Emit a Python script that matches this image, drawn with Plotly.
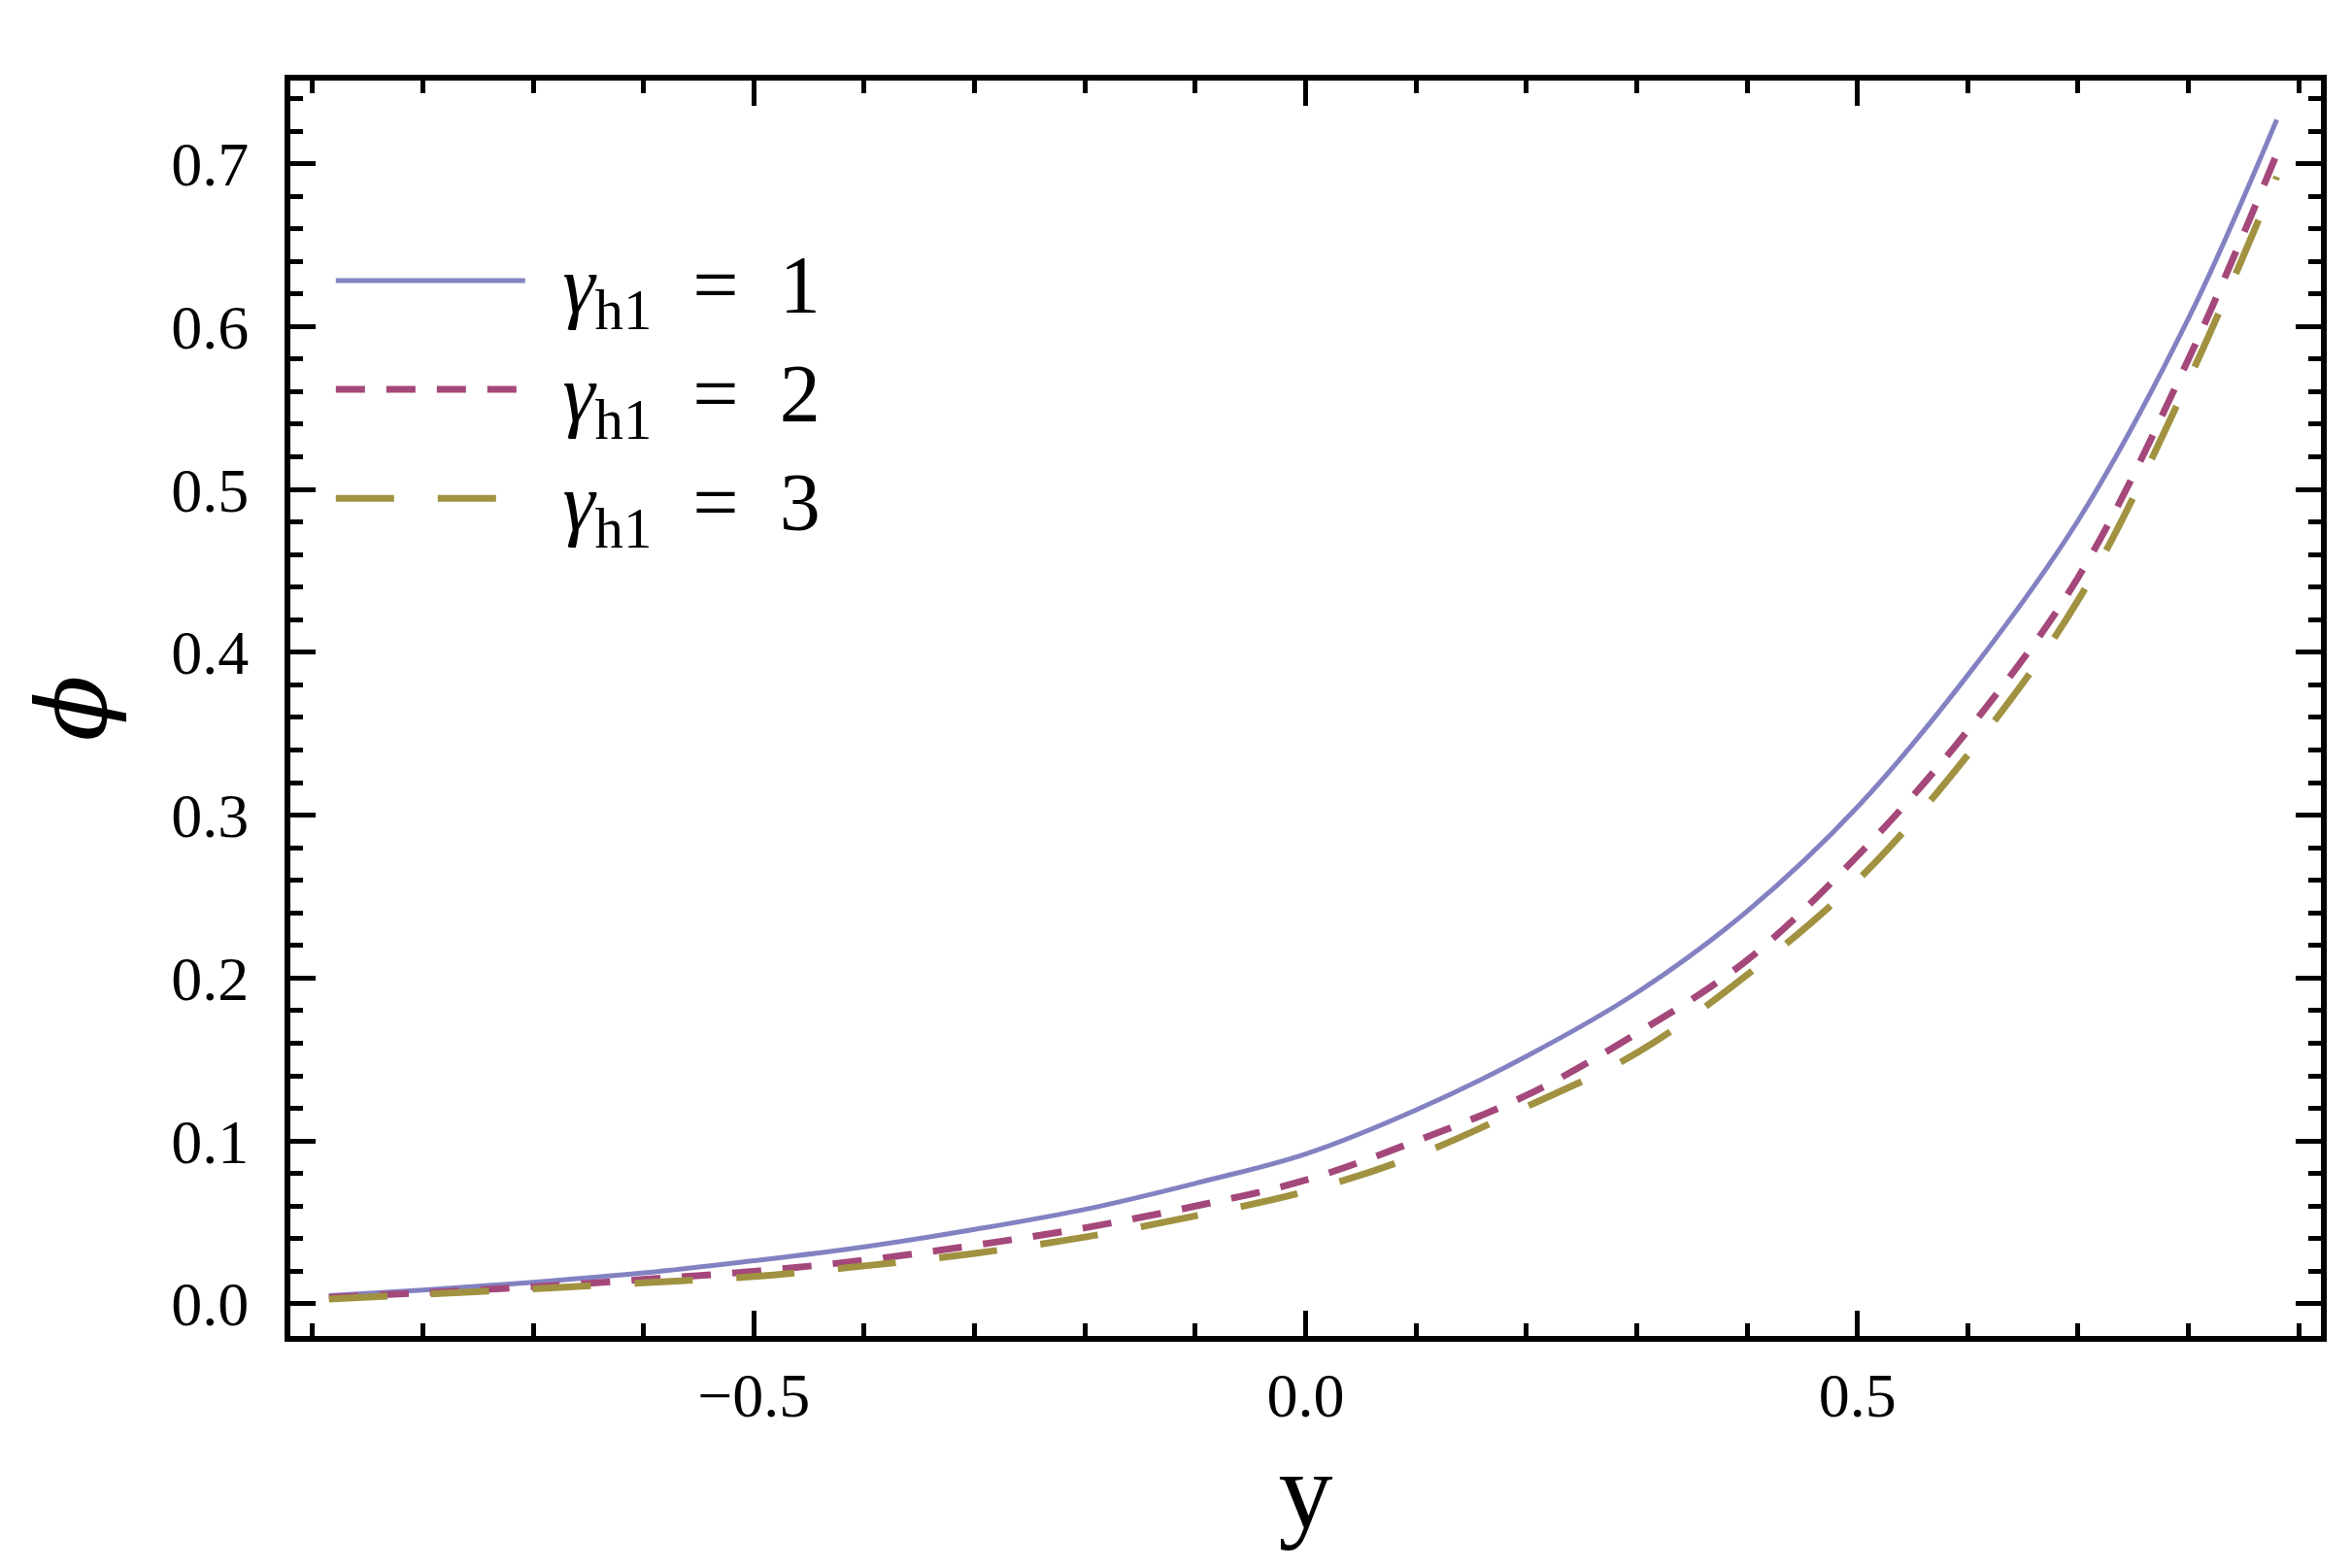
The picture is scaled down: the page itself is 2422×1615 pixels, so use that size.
import plotly.graph_objects as go

# Data
y_pos = [-0.885, -0.8, -0.7, -0.6, -0.5, -0.4, -0.3, -0.2, -0.1, 0.0,
         0.1, 0.2, 0.3, 0.4, 0.5, 0.6, 0.7, 0.8, 0.88]
phi_g1 = [0.005, 0.0085, 0.0133, 0.019, 0.0265, 0.035, 0.0457, 0.058, 0.074, 0.092,
          0.119, 0.152, 0.191, 0.241, 0.305, 0.386, 0.481, 0.605, 0.727]
phi_g2 = [0.004, 0.0068, 0.0105, 0.015, 0.020, 0.0268, 0.036, 0.0467, 0.060, 0.076,
          0.100, 0.128, 0.166, 0.211, 0.275, 0.352, 0.446, 0.580, 0.706]
phi_g3 = [0.003, 0.0058, 0.0092, 0.013, 0.0168, 0.0233, 0.031, 0.041, 0.054, 0.069,
          0.091, 0.121, 0.154, 0.202, 0.260, 0.337, 0.432, 0.567, 0.692]
gamma_values = ["1", "2", "3"]

SP = "\u2009\u2009"      # small lead-in gap between legend line and text
GAP = "\u00a0 "          # wider gap around the equals sign
series_names = [f"{SP}<i>γ</i><sub>h1</sub>{GAP}={GAP}{g}" for g in gamma_values]

FONT = "Liberation Serif"

fig = go.Figure()
fig.add_trace(go.Scatter(x=y_pos, y=phi_g1, mode="lines", name=series_names[0],
                         line=dict(color="#8282c2", width=5, shape="spline")))
fig.add_trace(go.Scatter(x=y_pos, y=phi_g2, mode="lines", name=series_names[1],
                         line=dict(color="#a4487b", width=7, dash="30px,22px", shape="spline")))
fig.add_trace(go.Scatter(x=y_pos, y=phi_g3, mode="lines", name=series_names[2],
                         line=dict(color="#a09240", width=7, dash="60px,45px", shape="spline")))

axis_common = dict(
    showline=True, linewidth=6, linecolor="black", mirror="ticks",
    ticks="inside", ticklen=26, tickwidth=5, tickcolor="black",
    showgrid=False, zeroline=False,
    tickfont=dict(family=FONT, size=64, color="black"),
)

fig.update_xaxes(
    range=[-0.92, 0.92], tickmode="linear", tick0=0, dtick=0.5, tickformat=".1f",
    minor=dict(tickmode="linear", tick0=0, dtick=0.1, ticks="inside", ticklen=13,
               tickwidth=5, tickcolor="black", showgrid=False),
    title=dict(text="y", font=dict(family=FONT, size=112, color="black"), standoff=22),
    **axis_common,
)
fig.update_yaxes(
    range=[-0.0197, 0.751], tickmode="linear", tick0=0, dtick=0.1, tickformat=".1f",
    ticklabelstandoff=24,
    minor=dict(tickmode="linear", tick0=0, dtick=0.02, ticks="inside", ticklen=13,
               tickwidth=5, tickcolor="black", showgrid=False),
    title=dict(text="<i>ϕ</i>", font=dict(family="DejaVu Serif", size=100, color="black"),
               standoff=35),
    **axis_common,
)

fig.update_layout(
    width=2422, height=1615,
    margin=dict(l=291, r=40, t=75, b=247),
    plot_bgcolor="white", paper_bgcolor="white",
    font=dict(family=FONT, color="black"),
    showlegend=True,
    legend=dict(x=0.02, y=0.888, xanchor="left", yanchor="top",
                bgcolor="rgba(0,0,0,0)", font=dict(family=FONT, size=84, color="black"),
                itemwidth=195, tracegroupgap=0),
)

fig.write_html("out.html")
